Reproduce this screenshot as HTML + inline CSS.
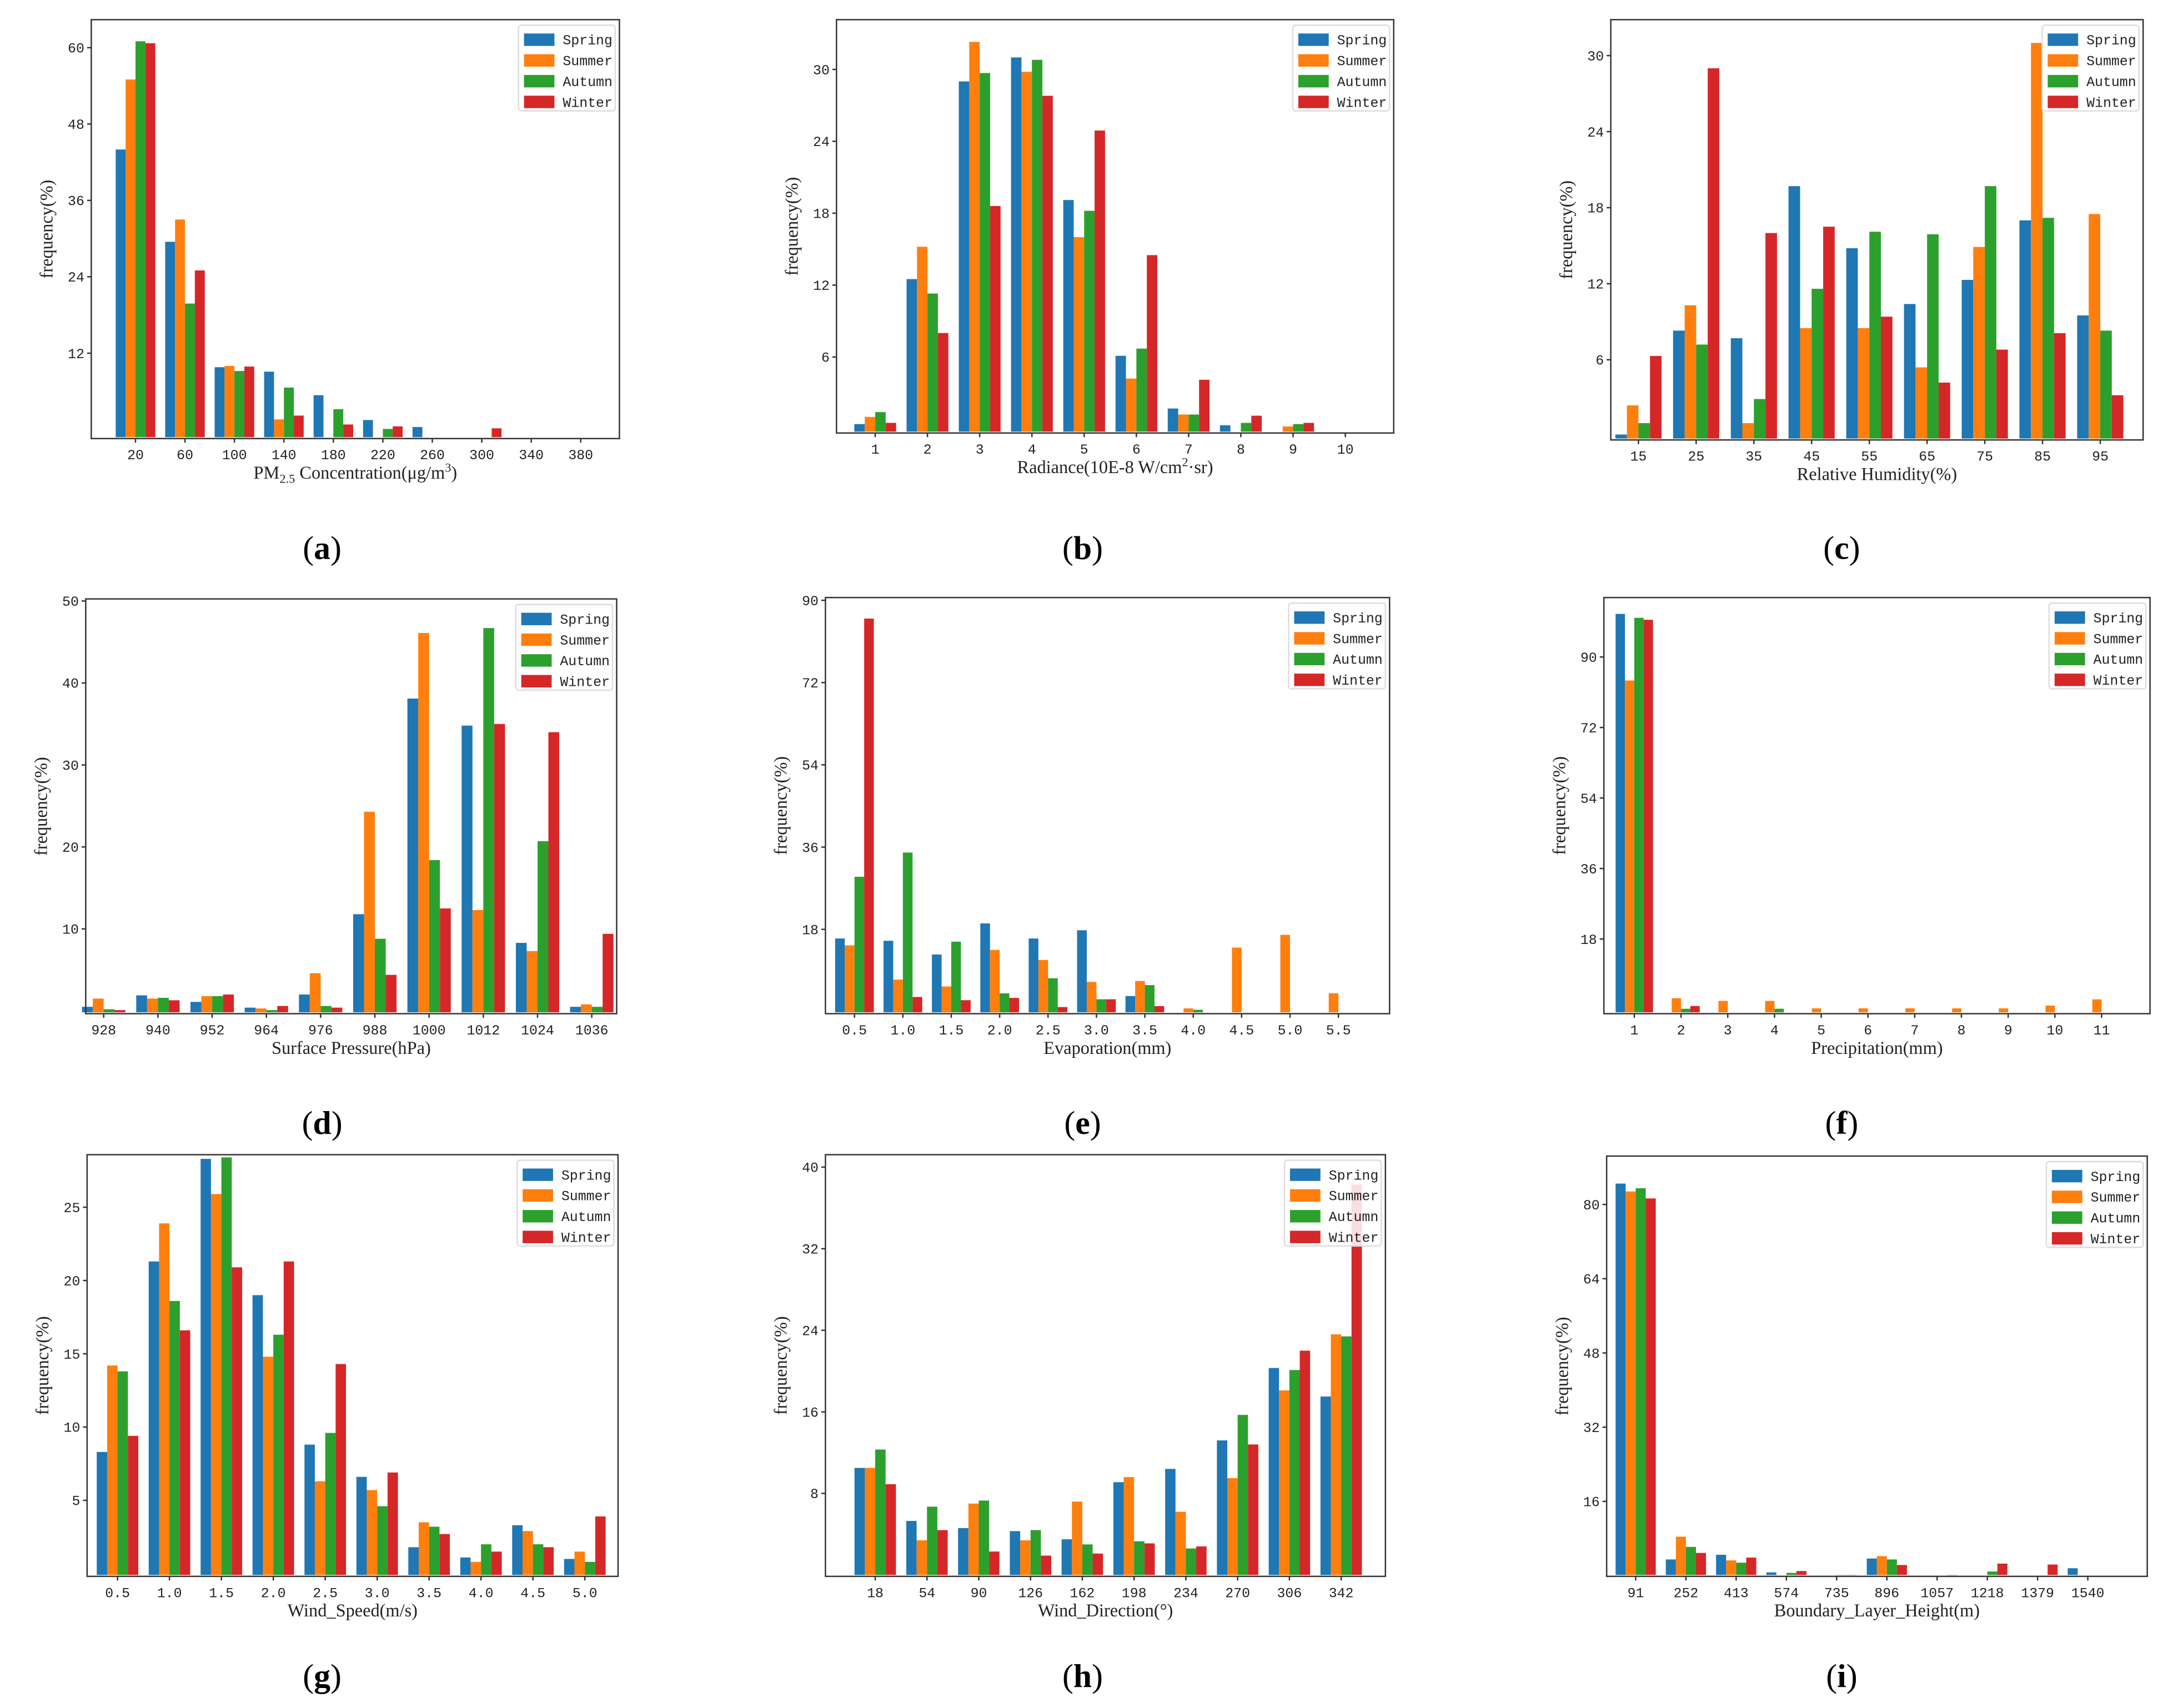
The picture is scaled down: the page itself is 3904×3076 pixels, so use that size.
<!DOCTYPE html>
<html><head><meta charset="utf-8">
<style>
html,body{margin:0;padding:0;background:#fff;}
svg{display:block;}
.tk{font-family:"Liberation Mono","DejaVu Sans Mono",monospace;font-size:10px;fill:#222;}
.lab{font-family:"Liberation Serif",serif;font-size:13px;fill:#222;}
.cap{font-family:"Liberation Serif",serif;font-size:24px;fill:#000;}
.leg{font-family:"Liberation Mono",monospace;font-size:10px;fill:#222;}
</style></head>
<body>
<svg id="fig" width="3904" height="3076" viewBox="0 0 1568 1235" xmlns="http://www.w3.org/2000/svg"></svg>
<script>
const seasons = ["Spring","Summer","Autumn","Winter"];
const colors = ["#1f77b4","#ff7f0e","#2ca02c","#d62728"];

const aCats = ["20","60","100","140","180","220","260","300","340","380"];
const aSpring = [44,29.5,9.8,9.1,5.4,1.5,0.4,0,0,0];
const aSummer = [55,33,10,1.6,0,0,0,0,0,0];
const aAutumn = [61,19.8,9.2,6.6,3.2,0.1,0,0,0,0];
const aWinter = [60.7,25,9.9,2.2,0.8,0.5,0,0.2,0,0];
const aTicks = [12,24,36,48,60];

const bCats = ["1","2","3","4","5","6","7","8","9","10"];
const bSpring = [0.4,12.5,29,31,19.1,6.1,1.7,0.3,0,0];
const bSummer = [1,15.2,32.3,29.8,16,4.2,1.2,0,0.2,0];
const bAutumn = [1.4,11.3,29.7,30.8,18.2,6.7,1.2,0.5,0.4,0];
const bWinter = [0.5,8,18.6,27.8,24.9,14.5,4.1,1.1,0.5,0];
const bTicks = [6,12,18,24,30];

const cCats = ["15","25","35","45","55","65","75","85","95"];
const cSpring = [0.1,8.3,7.7,19.7,14.8,10.4,12.3,17,9.5];
const cSummer = [2.4,10.3,1,8.5,8.5,5.4,14.9,31,17.5];
const cAutumn = [1,7.2,2.9,11.6,16.1,15.9,19.7,17.2,8.3];
const cWinter = [6.3,29,16,16.5,9.4,4.2,6.8,8.1,3.2];
const cTicks = [6,12,18,24,30];

const dCats = ["928","940","952","964","976","988","1000","1012","1024","1036"];
const dSpring = [0.5,1.9,1.1,0.4,2,11.8,38.1,34.8,8.3,0.5];
const dSummer = [1.5,1.5,1.8,0.3,4.6,24.3,46.1,12.3,7.3,0.8];
const dAutumn = [0.2,1.6,1.8,0.1,0.6,8.8,18.4,46.7,20.7,0.5];
const dWinter = [0.1,1.3,2,0.6,0.4,4.4,12.5,35,34,9.4];
const dTicks = [10,20,30,40,50];

const eCats = ["0.5","1.0","1.5","2.0","2.5","3.0","3.5","4.0","4.5","5.0","5.5"];
const eSpring = [16,15.5,12.5,19.3,16,17.8,3.4,0,0,0,0];
const eSummer = [14.5,7,5.5,13.5,11.3,6.5,6.7,0.7,14,16.8,4];
const eAutumn = [29.5,34.8,15.3,4,7.3,2.7,5.8,0.4,0,0,0];
const eWinter = [86,3.2,2.5,3,1,2.7,1.2,0,0,0,0];
const eTicks = [18,36,54,72,90];

const fCats = ["1","2","3","4","5","6","7","8","9","10","11"];
const fSpring = [101,0,0,0,0,0,0,0,0,0,0];
const fSummer = [84,2.9,2.2,2.2,0.3,0.3,0.3,0.3,0.3,1,2.6];
const fAutumn = [100,0.2,0,0.2,0,0,0,0,0,0,0];
const fWinter = [99.5,0.9,0,0,0,0,0,0,0,0,0];
const fTicks = [18,36,54,72,90];

const gCats = ["0.5","1.0","1.5","2.0","2.5","3.0","3.5","4.0","4.5","5.0"];
const gSpring = [8.3,21.3,28.3,19,8.8,6.6,1.8,1.1,3.3,1];
const gSummer = [14.2,23.9,25.9,14.8,6.3,5.7,3.5,0.8,2.9,1.5];
const gAutumn = [13.8,18.6,28.4,16.3,9.6,4.6,3.2,2,2,0.8];
const gWinter = [9.4,16.6,20.9,21.3,14.3,6.9,2.7,1.5,1.8,3.9];
const gTicks = [5,10,15,20,25];

const hCats = ["18","54","90","126","162","198","234","270","306","342"];
const hSpring = [10.5,5.3,4.6,4.3,3.5,9.1,10.4,13.2,20.3,17.5];
const hSummer = [10.5,3.4,7,3.4,7.2,9.6,6.2,9.5,18.1,23.6];
const hAutumn = [12.3,6.7,7.3,4.4,3,3.3,2.6,15.7,20.1,23.4];
const hWinter = [8.9,4.4,2.3,1.9,2.1,3.1,2.8,12.8,22,38.3];
const hTicks = [8,16,24,32,40];

const iCats = ["91","252","413","574","735","896","1057","1218","1379","1540"];
const iSpring = [84.5,3.5,4.5,0.7,0,3.7,0,0,0,1.6];
const iSummer = [82.8,8.4,3.3,0,0,4.2,0,0,0,0];
const iAutumn = [83.5,6.2,2.8,0.6,0.2,3.5,0,0.9,0,0];
const iWinter = [81.3,4.9,3.9,1,0.2,2.3,0.2,2.6,2.4,0];
const iTicks = [16,32,48,64,80];

const NS = "http://www.w3.org/2000/svg";
const fig = document.getElementById("fig");
function mk(tag, attrs, parent){
  const e = document.createElementNS(NS, tag);
  for (const k in attrs) e.setAttribute(k, attrs[k]);
  (parent||fig).appendChild(e);
  return e;
}

// layout: box, first/last tick x, y0 pixel and px per unit
const panels = [
 {id:"a",cats:aCats,series:[aSpring,aSummer,aAutumn,aWinter],ticks:aTicks,box:[66,14,448,317],x0:98,x1:420,y0:310.5,ppu:55.25/12,xl:"PM<tspan font-size='9' dy='3'>2.5</tspan><tspan dy='-3'> Concentration(μg/m</tspan><tspan font-size='9' dy='-5'>3</tspan><tspan dy='5'>)</tspan>",cap:[233,396]},
 {id:"b",cats:bCats,series:[bSpring,bSummer,bAutumn,bWinter],ticks:bTicks,box:[605,14,1008,313],x0:633,x1:973,y0:310,ppu:52/6,xl:"Radiance(10E-8 W/cm<tspan font-size='9' dy='-5'>2</tspan><tspan dy='5'>·sr)</tspan>",cap:[783,396]},
 {id:"c",cats:cCats,series:[cSpring,cSummer,cAutumn,cWinter],ticks:cTicks,box:[1165,14,1550,318],x0:1185,x1:1519,y0:315,ppu:55/6,xl:"Relative Humidity(%)",cap:[1332,396]},
 {id:"d",cats:dCats,series:[dSpring,dSummer,dAutumn,dWinter],ticks:dTicks,box:[62,433,446,733],x0:75,x1:428,y0:731,ppu:59.3/10,xl:"Surface Pressure(hPa)",cap:[233,812]},
 {id:"e",cats:eCats,series:[eSpring,eSummer,eAutumn,eWinter],ticks:eTicks,box:[597,432,1005,733],x0:618,x1:968,y0:731.5,ppu:59.5/18,xl:"Evaporation(mm)",cap:[783,812]},
 {id:"f",cats:fCats,series:[fSpring,fSummer,fAutumn,fWinter],ticks:fTicks,box:[1160,432,1555,733],x0:1182,x1:1520,y0:730,ppu:51/18,xl:"Precipitation(mm)",cap:[1332,812]},
 {id:"g",cats:gCats,series:[gSpring,gSummer,gAutumn,gWinter],ticks:gTicks,box:[63,835,447,1140],x0:85,x1:423,y0:1138,ppu:53/5,xl:"Wind_Speed(m/s)",cap:[233,1212]},
 {id:"h",cats:hCats,series:[hSpring,hSummer,hAutumn,hWinter],ticks:hTicks,box:[597,835,1002,1140],x0:633,x1:970,y0:1139,ppu:59/8,xl:"Wind_Direction(°)",cap:[783,1212]},
 {id:"i",cats:iCats,series:[iSpring,iSummer,iAutumn,iWinter],ticks:iTicks,box:[1162,836,1553,1140],x0:1183,x1:1510,y0:1139.5,ppu:53.7/16,xl:"Boundary_Layer_Height(m)",cap:[1332,1212]},
];

panels.forEach(p=>{
  const g = mk("g",{});
  
  
  const [L,T,R,B] = p.box;
  const n = p.cats.length;
  const step = (p.x1-p.x0)/(n-1);
  const xs = i => p.x0 + i*step;
  const ys = v => p.y0 - v*p.ppu;
  const bw = step*0.2;
  // bars
  p.series.forEach((ser,si)=>{
    ser.forEach((v,ci)=>{
      if (v<=0) return;
      const x = xs(ci) - 2*bw + si*bw;
      const y = Math.max(ys(v), T);
      const r = mk("rect",{x:x,y:y,width:bw,height:B-1-y,fill:colors[si]},g);
      
      
    });
  });
  // axes box
  const frame = mk("rect",{x:L,y:T,width:R-L,height:B-T,fill:"none",stroke:"#333","stroke-width":1},g);
  
  
  // x ticks
  p.cats.forEach((c,ci)=>{
    mk("line",{x1:xs(ci),x2:xs(ci),y1:B,y2:B+3,stroke:"#333"},g);
    const t = mk("text",{x:xs(ci),y:B+15,"text-anchor":"middle",class:"tk"},g);
    t.textContent = c;
    
    
  });
  // y ticks
  p.ticks.forEach(v=>{
    const y = ys(v);
    mk("line",{x1:L-3,x2:L,y1:y,y2:y,stroke:"#333"},g);
    const t = mk("text",{x:L-5,y:y+3.5,"text-anchor":"end",class:"tk"},g);
    t.textContent = v;
    
    
  });
  // x label
  const xl = mk("text",{x:(L+R)/2,y:B+29,"text-anchor":"middle",class:"lab"},g);
  xl.innerHTML = p.xl;
  
  
  const yl = mk("text",{x:0,y:0,"text-anchor":"middle",class:"lab",transform:`translate(${L-28},${(T+B)/2}) rotate(-90)`},g);
  yl.textContent = "frequency(%)";
  
  
  // legend
  const lg = mk("g",{},g);
  
  
  const lx = R-73, ly = T+4;
  mk("rect",{x:lx,y:ly,width:70,height:62,fill:"#fff","fill-opacity":0.85,stroke:"#ddd",rx:2},lg);
  seasons.forEach((s,si)=>{
    const e = mk("g",{},lg);
    
    
    mk("rect",{x:lx+4,y:ly+6+si*15,width:22,height:9,fill:colors[si]},e);
    const t = mk("text",{x:lx+32,y:ly+14+si*15,class:"leg"},e);
    t.textContent = s;
  });
  // caption
  const cp = mk("text",{x:p.cap[0],y:p.cap[1]+8,"text-anchor":"middle",class:"cap"},g);
  cp.innerHTML = "(<tspan font-weight='bold'>"+p.id+"</tspan>)";
  
  
});
</script>
</body></html>
